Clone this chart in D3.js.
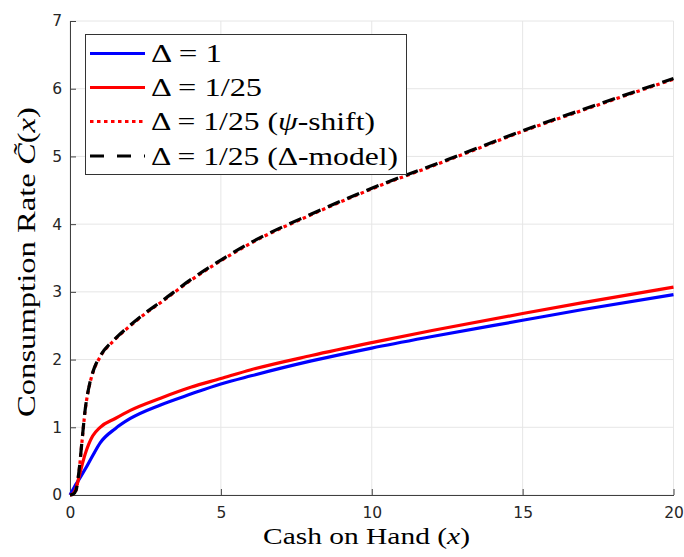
<!DOCTYPE html>
<html><head><meta charset="utf-8">
<script src="https://cdn.jsdelivr.net/npm/d3@7"></script>
<style>body{margin:0;background:#fff}</style>
</head><body>
<svg id="c" width="684" height="557"></svg>
<script>
// ---- data ----
const xLow = [0, 0.1, 0.2, 0.3, 0.5, 0.75, 1, 1.5, 2, 3, 4, 5, 6, 8, 10, 12, 15, 17, 20];
const cDelta1 = [0, 0.08, 0.16, 0.23, 0.38, 0.58, 0.77, 0.98, 1.13, 1.33, 1.49, 1.64, 1.76, 1.98, 2.17, 2.34, 2.58, 2.74, 2.96];
const cDelta25 = [0, 0.02, 0.1, 0.27, 0.6, 0.87, 1.0, 1.13, 1.25, 1.43, 1.59, 1.72, 1.85, 2.06, 2.25, 2.43, 2.68, 2.84, 3.07];
const xHigh = [0, 0.1, 0.2, 0.3, 0.4, 0.5, 0.65, 0.8, 1, 1.5, 2, 2.5, 3, 4, 5, 6, 8, 10, 12.5, 15, 17.5, 20];
const cPsiShift = [0, 0.01, 0.07, 0.35, 0.8, 1.24, 1.63, 1.86, 2.04, 2.3, 2.5, 2.68, 2.84, 3.17, 3.46, 3.72, 4.14, 4.52, 4.94, 5.37, 5.76, 6.14];
const cDeltaModel = [0, 0.01, 0.07, 0.36, 0.81, 1.25, 1.64, 1.87, 2.05, 2.31, 2.51, 2.69, 2.85, 3.18, 3.47, 3.73, 4.15, 4.53, 4.95, 5.38, 5.77, 6.15];
const xTicks = [0, 5, 10, 15, 20];
const yTicks = [0, 1, 2, 3, 4, 5, 6, 7];

const svg = d3.select("#c");
const L = 70, R = 673.5, T = 21, B = 495;
const x = d3.scaleLinear().domain([0, 20]).range([L, R]);
const y = d3.scaleLinear().domain([0, 7]).range([B, T]);

// grid
const g = svg.append("g");
g.selectAll(".gx").data(xTicks).join("line")
  .attr("x1", d => x(d)).attr("x2", d => x(d)).attr("y1", T).attr("y2", B)
  .attr("stroke", "#e6e6e6").attr("stroke-width", 1);
g.selectAll(".gy").data(yTicks).join("line")
  .attr("x1", L).attr("x2", R).attr("y1", d => y(d)).attr("y2", d => y(d))
  .attr("stroke", "#e6e6e6").attr("stroke-width", 1);

// axes
const ax = svg.append("g").attr("transform", `translate(0,${B})`)
  .call(d3.axisBottom(x).tickValues(xTicks).tickFormat(d3.format("d")).tickSizeInner(-6).tickSizeOuter(0).tickPadding(12));
const ay = svg.append("g").attr("transform", `translate(${L},0)`)
  .call(d3.axisLeft(y).tickValues(yTicks).tickFormat(d3.format("d")).tickSizeInner(-6).tickSizeOuter(0).tickPadding(8));
[ax, ay].forEach(a => {
  a.select(".domain").attr("stroke", "#404040").attr("stroke-width", 1);
  a.selectAll(".tick line").attr("stroke", "#404040");
  a.selectAll("text").attr("font-family", "DejaVu Sans").attr("font-size", 15.5).attr("fill", "#262626");
});

// lines
const line = (xs) => d3.line().x((d, i) => x(xs[i])).y(d => y(d)).curve(d3.curveMonotoneX);
const series = [
  {xs: xLow, ys: cDelta1, color: "#0000ff", dash: null},
  {xs: xLow, ys: cDelta25, color: "#ff0000", dash: null},
  {xs: xHigh, ys: cPsiShift, color: "#ff0000", dash: "3.5,3.5"},
  {xs: xHigh, ys: cDeltaModel, color: "#000000", dash: "13,8"}
];
const plot = svg.append("g");
series.forEach(s => {
  plot.append("path").attr("d", line(s.xs)(s.ys))
    .attr("fill", "none").attr("stroke", s.color).attr("stroke-width", 3.2)
    .attr("stroke-dasharray", s.dash);
});

// legend
const lg = svg.append("g");
lg.append("rect").attr("x", 85.5).attr("y", 34.5).attr("width", 321).attr("height", 140)
  .attr("fill", "#fff").attr("stroke", "#333").attr("stroke-width", 1);
const labels = [
  [["Δ = 1", false]],
  [["Δ = 1/25", false]],
  [["Δ = 1/25 (", false], ["ψ", true], ["-shift)", false]],
  [["Δ = 1/25 (Δ-model)", false]]
];
const legW = [71, 111, 224, 247];
const legDash = [null, null, "3.5,3.5", "14,13"];
const rowY = [53.5, 87.5, 121.5, 156];
series.forEach((s, i) => {
  lg.append("line").attr("x1", 90).attr("x2", 145).attr("y1", rowY[i]).attr("y2", rowY[i])
    .attr("stroke", s.color).attr("stroke-width", 3.2).attr("stroke-dasharray", legDash[i]);
  const t = lg.append("text").attr("x", 151).attr("y", rowY[i] + 8.5)
    .attr("font-family", "Liberation Serif").attr("font-size", 26).attr("fill", "#000")
    .attr("textLength", legW[i]).attr("lengthAdjust", "spacingAndGlyphs");
  labels[i].forEach(([txt, it]) => t.append("tspan").text(txt).attr("font-style", it ? "italic" : null));
});

// axis labels
const xl = svg.append("text").attr("x", 366.5).attr("y", 544)
  .attr("text-anchor", "middle").attr("font-family", "Liberation Serif").attr("font-size", 23).attr("fill", "#000")
  .attr("textLength", 207).attr("lengthAdjust", "spacingAndGlyphs");
xl.append("tspan").text("Cash on Hand (");
xl.append("tspan").text("x").attr("font-style", "italic");
xl.append("tspan").text(")");

const yl = svg.append("text").attr("transform", `translate(35,262) rotate(-90)`)
  .attr("text-anchor", "middle").attr("font-family", "Liberation Serif").attr("font-size", 25).attr("fill", "#000")
  .attr("textLength", 310).attr("lengthAdjust", "spacingAndGlyphs");
yl.append("tspan").text("Consumption Rate ");
yl.append("tspan").text("C\u0303").attr("font-style", "italic");
yl.append("tspan").text("(");
yl.append("tspan").text("x").attr("font-style", "italic");
yl.append("tspan").text(")");
</script>
</body></html>
